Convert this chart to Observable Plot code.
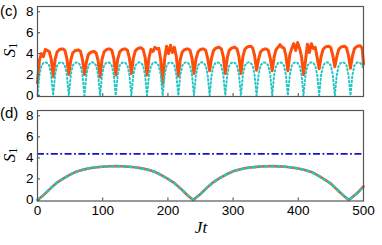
<!DOCTYPE html>
<html>
<head>
<meta charset="utf-8">
<script src="https://cdn.jsdelivr.net/npm/d3@7"></script>
<script src="https://cdn.jsdelivr.net/npm/@observablehq/plot@0.6"></script>
<style>
  html, body { margin: 0; padding: 0; background: #fff; }
  #chart { position: relative; width: 382px; height: 245px; }
  #chart svg { display: block; }
</style>
</head>
<body>
<div id="chart"></div>
<script>
// ---------- data ----------
const xTicks = [0, 100, 200, 300, 400, 500];
const yTicks = [0, 2, 4, 6, 8];
const dashDotLevel = [4.38];

// panel (c): time samples
const tTop = [
  0,3,6,9,12,15,18,21,
  24,27,30,33,36,39,42,45,
  48,51,54,57,60,63,66,69,
  72,75,78,81,84,87,90,93,
  96,99,102,105,108,111,114,117,
  120,123,126,129,132,135,138,141,
  144,147,150,153,156,159,162,165,
  168,171,174,177,180,183,186,189,
  192,195,198,201,204,207,210,213,
  216,219,222,225,228,231,234,237,
  240,243,246,249,252,255,258,261,
  264,267,270,273,276,279,282,285,
  288,291,294,297,300,303,306,309,
  312,315,318,321,324,327,330,333,
  336,339,342,345,348,351,354,357,
  360,363,366,369,372,375,378,381,
  384,387,390,393,396,399,402,405,
  408,411,414,417,420,423,426,429,
  432,435,438,441,444,447,450,453,
  456,459,462,465,468,471,474,477,
  480,483,486,489,492,495,498,500
];
// panel (c): solid orange series
const orangeTop = [
  1.2,3.4,4.0,3.7,4.4,4.3,4.2,3.5,
  1.8,3.45,4.15,4.35,4.43,4.45,4.3,3.55,
  2.0,3.35,4.05,4.25,4.33,4.35,4.2,3.45,
  2.0,3.2,3.9,4.1,4.18,4.2,4.05,3.3,
  1.75,3.45,4.15,4.35,4.43,4.45,4.3,3.55,
  1.95,3.45,4.15,4.35,4.43,4.45,4.3,3.55,
  2.1,3.55,4.25,4.45,4.53,4.55,4.4,3.65,
  1.95,3.6,4.4,4.2,4.6,4.45,4.5,3.4,
  1.1,3.5,4.7,4.0,4.8,4.1,4.6,3.7,
  1.85,3.45,4.15,4.35,4.43,4.45,4.3,3.55,
  2.1,3.45,4.15,4.35,4.43,4.45,4.3,3.55,
  2.35,3.6,4.3,4.5,4.58,4.6,4.45,3.7,
  2.1,3.6,4.3,4.5,4.58,4.6,4.45,3.7,
  2.1,3.7,4.4,4.6,4.68,4.7,4.55,3.8,
  2.4,3.45,4.15,4.35,4.43,4.45,4.3,3.55,
  2.35,3.7,4.4,4.6,4.85,4.6,4.55,3.8,
  2.35,3.9,4.5,4.95,4.3,5.05,4.5,3.7,
  2.0,3.3,4.9,4.1,4.95,4.5,4.6,3.6,
  2.55,3.7,4.4,4.6,4.68,4.7,4.55,3.8,
  2.75,3.7,4.4,4.6,4.68,4.7,4.55,3.8,
  2.6,3.75,4.45,4.65,4.73,4.75,4.5,3.0
];
// panel (c): dotted cyan series
const cyanTop = [
  0,1.95,2.85,3.1,3.17,3.1,2.85,1.95,
  0,1.95,2.85,3.1,3.17,3.1,2.85,1.95,
  0,1.95,2.85,3.1,3.16,3.1,2.85,1.95,
  0,1.95,2.85,3.1,3.17,3.1,2.85,1.95,
  0,1.95,2.85,3.1,3.17,3.1,2.85,1.95,
  0,1.95,2.85,3.1,3.16,3.1,2.85,1.95,
  0,1.95,2.85,3.1,3.17,3.1,2.85,1.95,
  0,1.95,2.85,3.1,3.17,3.1,2.85,1.95,
  0,1.95,2.85,3.1,3.16,3.1,2.85,1.95,
  0,1.95,2.85,3.1,3.17,3.1,2.85,1.95,
  0,1.95,2.85,3.1,3.17,3.1,2.85,1.95,
  0,1.95,2.85,3.1,3.16,3.1,2.85,1.95,
  0,1.95,2.85,3.1,3.17,3.1,2.85,1.95,
  0,1.95,2.85,3.1,3.17,3.1,2.85,1.95,
  0,1.95,2.85,3.1,3.16,3.1,2.85,1.95,
  0,1.95,2.85,3.1,3.17,3.1,2.85,1.95,
  0,1.95,2.85,3.1,3.17,3.1,2.85,1.95,
  0,1.95,2.85,3.1,3.16,3.1,2.85,1.95,
  0,1.95,2.85,3.1,3.17,3.1,2.85,1.95,
  0,1.95,2.85,3.1,3.17,3.1,2.85,1.95,
  0,1.95,2.85,3.1,3.17,3.1,2.85,2.6
];

// panel (d): time samples and the (coinciding) orange / cyan curves
const tBottom = [
  0,10,20,30,40,50,60,70,80,90,100,110,120,130,140,150,160,170,180,190,200,210,220,230,238.8,
  250,260,270,280,290,300,310,320,330,340,350,360,370,380,390,400,410,420,430,440,450,460,470,477.5,
  490,500
];
const sBottom = [
  0,0.5,1.1,1.65,2.05,2.4,2.7,2.88,3.02,3.1,3.16,3.2,3.21,3.2,3.16,3.1,3.0,2.86,2.67,2.35,2.0,1.6,1.05,0.45,0,
  0.57,1.17,1.7,2.1,2.44,2.72,2.9,3.03,3.11,3.17,3.2,3.21,3.19,3.15,3.08,2.99,2.84,2.66,2.33,1.95,1.55,0.95,0.38,0,
  0.63,1.3
];

// ---------- styling ----------
const ORANGE = "#ff4d0a";
const CYAN = "#22c6c6";
const BLUE = "#1414cc";
const FRAME = "#555";
const FONT = "'Liberation Sans', Arial, sans-serif";
const SERIF = "'Liberation Serif', 'Times New Roman', serif";

const topData = tTop.map((t, i) => ({t, orange: orangeTop[i], cyan: cyanTop[i]}));
const botData = tBottom.map((t, i) => ({t, s: sBottom[i]}));

const common = {
  width: 382,
  marginLeft: 37,
  marginRight: 19,
  style: {fontFamily: FONT, fontSize: "13.5px", color: "#000", background: "transparent", overflow: "visible"}
};

const topPlot = Plot.plot({
  ...common,
  height: 100,
  marginTop: 6,
  marginBottom: 4,
  x: {domain: [0, 500], axis: null, label: null},
  y: {domain: [-0.1, 8.5], label: null},
  marks: [
    Plot.line(topData, {x: "t", y: "orange", stroke: ORANGE, strokeWidth: 3, strokeLinejoin: "round"}),
    Plot.line(topData, {x: "t", y: "cyan", stroke: CYAN, strokeWidth: 2, strokeDasharray: "1.4,2.6"}),
    Plot.tickX(xTicks.slice(1, -1), {x: d => d, insetTop: 87, stroke: "#666", strokeWidth: 1.2}),
    Plot.tickY(yTicks, {y: d => d, insetRight: 323, stroke: "#666", strokeWidth: 1.2}),
    Plot.axisY({ticks: yTicks, tickSize: 0, tickPadding: 4, label: null, fontSize: 13.5}),
    Plot.frame({stroke: FRAME, strokeWidth: 1.2})
  ]
});

const botPlot = Plot.plot({
  ...common,
  height: 145,
  marginTop: 10,
  marginBottom: 44.5,
  x: {domain: [0, 500], label: null},
  y: {domain: [-0.1, 8.5], label: null},
  marks: [
    Plot.ruleY(dashDotLevel, {stroke: BLUE, strokeWidth: 1.6, strokeDasharray: "7,2.5,1.8,2.5"}),
    Plot.line(botData, {x: "t", y: "s", stroke: ORANGE, strokeWidth: 2.6}),
    Plot.line(botData, {x: "t", y: "s", stroke: CYAN, strokeWidth: 2.6, strokeDasharray: "2.4,3.6"}),
    Plot.tickX(xTicks.slice(1, -1), {x: d => d, insetTop: 87.5, stroke: "#666", strokeWidth: 1.2}),
    Plot.tickY(yTicks, {y: d => d, insetRight: 323, stroke: "#666", strokeWidth: 1.2}),
    Plot.axisY({ticks: yTicks, tickSize: 0, tickPadding: 4, label: null, fontSize: 13.5}),
    Plot.axisX({ticks: xTicks, tickSize: 0, tickPadding: 4, label: null, fontSize: 13.5}),
    Plot.frame({stroke: FRAME, strokeWidth: 1.2})
  ]
});

const chart = document.getElementById("chart");
chart.appendChild(topPlot);
chart.appendChild(botPlot);

// ---------- annotations (real text) ----------
function addText(svg, x, y, txt, opts = {}) {
  const t = d3.select(svg).append("text")
    .attr("x", x).attr("y", y)
    .attr("font-family", opts.family || FONT)
    .attr("font-size", opts.size || 14)
    .attr("fill", "#000")
    .attr("text-anchor", opts.anchor || "start")
    .attr("dominant-baseline", "middle");
  if (opts.italic) t.attr("font-style", "italic");
  t.text(txt);
  return t;
}
function addS1(svg, x, y) {
  const t = d3.select(svg).append("text")
    .attr("x", x).attr("y", y)
    .attr("font-family", SERIF)
    .attr("font-size", 17)
    .attr("fill", "#000")
    .attr("text-anchor", "middle")
    .attr("dominant-baseline", "middle")
    .attr("transform", `rotate(-90,${x},${y})`);
  t.append("tspan").attr("font-style", "italic").text("S");
  t.append("tspan").attr("font-size", 12).attr("dy", 3).text("1");
}

addText(topPlot, 0, 12, "(c)", {size: 15});
addS1(topPlot, 11, 50);
addText(botPlot, 0, 14, "(d)", {size: 15});
addS1(botPlot, 11, 55);
addText(botPlot, 201, 129, "Jt", {family: SERIF, italic: true, size: 17, anchor: "middle"});
</script>
</body>
</html>
